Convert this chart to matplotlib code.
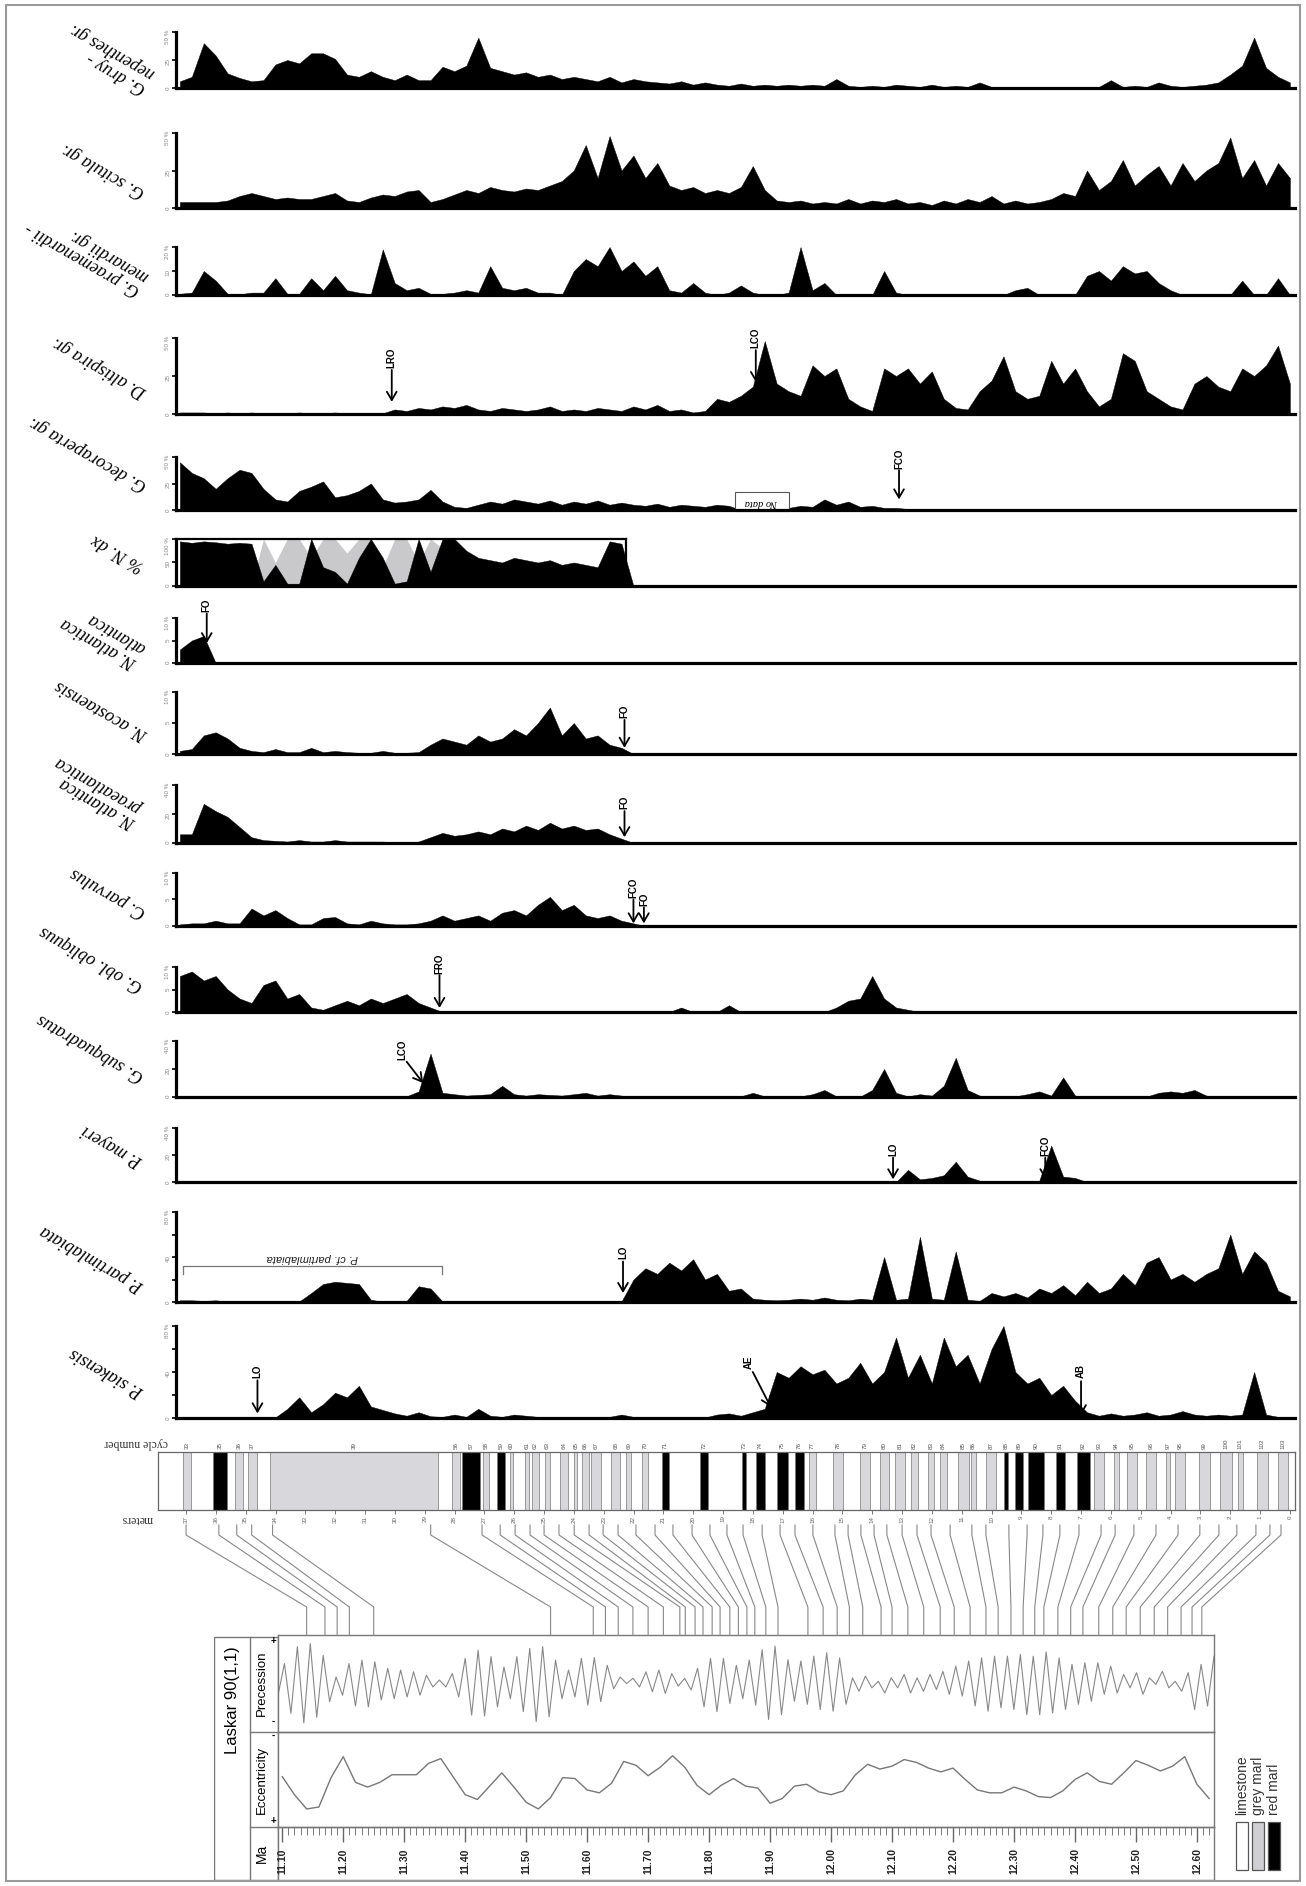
import numpy as np
import matplotlib
matplotlib.use("Agg")
import matplotlib.pyplot as plt
import matplotlib.transforms as mtransforms
from matplotlib.patches import Rectangle
from matplotlib.lines import Line2D

W, H = 1306, 1886
plt.rcParams['font.family'] = ['Liberation Sans', 'DejaVu Sans']

# sample positions along the section (m), left = old
depth_m = np.round(np.arange(37.2, -0.05, -0.4), 1)

druy = [6, 10, 40, 29, 13, 9, 6, 7, 21, 25, 22, 31, 31, 26, 12, 10, 15, 10, 7, 12, 7, 7, 19,
        15, 20, 45, 18, 15, 12, 14, 10, 12, 8, 10, 8, 6, 10, 5, 8, 6, 5, 4, 6, 3, 5, 3, 2,
        4, 2, 3, 2, 3, 2, 3, 2, 8, 2, 1, 2, 1, 3, 2, 1, 3, 1, 2, 1, 5, 1, 0, 1, 0, 1, 0, 0,
        1, 0, 1, 7, 1, 2, 1, 5, 2, 1, 2, 3, 5, 12, 20, 45, 18, 10, 5]
scitula = [4, 4, 4, 4, 5, 8, 10, 8, 6, 7, 6, 6, 8, 10, 5, 4, 7, 9, 8, 11, 12, 4, 6,
           9, 12, 10, 14, 12, 11, 13, 12, 15, 18, 25, 42, 20, 48, 25, 35, 20, 30, 15, 12, 14,
           10, 12, 10, 14, 28, 12, 5, 4, 5, 3, 4, 3, 6, 3, 5, 4, 6, 3, 4, 2, 5, 3, 6, 4, 8,
           3, 5, 3, 4, 6, 10, 8, 25, 12, 18, 32, 15, 22, 28, 15, 30, 18, 25, 30, 47, 20, 32,
           15, 30, 20]
menardii = [0.5, 1, 10, 6, 0.5, 0.3, 1, 1, 7, 0.5, 0.5, 7, 2, 8, 2, 1, 0.3, 19, 5, 2, 3, 0.5, 0.5,
            1, 2, 1, 12, 3, 2, 3, 1, 1, 0, 10, 15, 12, 20, 10, 14, 8, 12, 2, 1, 5, 1, 0, 1, 4,
            1, 0, 0, 1, 20, 2, 5, 0, 0, 0, 0, 10, 1, 0, 0, 0, 0, 0, 0, 0, 0, 0, 2, 3, 0, 0, 0,
            0, 8, 10, 6, 12, 9, 10, 5, 2, 0, 0, 0, 0, 0, 6, 0, 0, 7, 0]
altispira = [1, 1, 1, 0.5, 1, 0.5, 1, 0.5, 0.5, 0.5, 1, 0.5, 0.5, 1, 0.5, 0.5, 0.5, 0.5,
             3, 2, 4, 3, 5, 4, 6, 3, 2, 4, 3, 2, 3, 5, 2, 3, 2, 4, 3, 2, 5, 3, 6, 2, 3, 1, 2,
             10, 8, 12, 18, 48, 20, 15, 12, 32, 25, 30, 10, 5, 2, 30, 25, 30, 20, 28, 10, 4, 3,
             15, 22, 38, 15, 10, 12, 35, 20, 30, 15, 5, 10, 40, 35, 15, 10, 5, 3, 20, 25, 18,
             15, 30, 25, 32, 45, 20]
decoraperta = [45, 35, 30, 20, 30, 38, 35, 20, 10, 8, 18, 22, 27, 12, 14, 18, 25, 10, 7, 8, 10, 19, 8,
               3, 2, 5, 8, 6, 10, 8, 6, 9, 5, 8, 6, 9, 5, 7, 5, 4, 6, 3, 5, 4, 3, 5, 4, 0, 0, 0,
               0, 2, 4, 3, 10, 5, 8, 3, 4, 2, 2, 1, 1, 1, 0,
               0, 0, 0, 0, 0, 0, 0, 0, 0, 0, 0, 0, 0, 0, 0, 0, 0, 0, 0, 0, 0, 0, 0, 0, 0, 0, 0, 0, 0]
ndx = [95, 92, 95, 93, 90, 92, 90,
       10, 45, 5, 5, 100, 40, 30, 5, 60, 100, 60, 5, 10, 100, 30, 100,
       100, 75, 60, 55, 50, 60, 55, 50, 55, 45, 50, 45, 40, 95, 90] + [0] * 56
ndx_grey = [0] * 7 + [100, 50, 100, 100, 60, 100, 100, 70, 100, 100, 40, 100, 100, 50, 100, 80] + [0] * 71
ndx_end_m = 22.25
atlantica = [3, 5, 6] + [0] * 91
acostaensis = [0.5, 0.8, 3, 3.5, 2.5, 1, 0.5, 0.3, 0.8, 0.3, 0.3, 1, 0.3, 0.5, 0.3, 0.2, 0.2, 0.5, 0.2,
               0.2, 0.3, 1.5, 2.5, 2, 1.5, 3, 2, 2.5, 4, 3, 5, 7.5, 3, 5, 2.5, 3, 1.5, 1] + [0] * 56
praeatlantica = [6, 6, 27, 22, 18, 11, 4, 2, 1.5, 1, 2, 1, 1, 2, 1, 1, 1, 1, 0.5, 0.5, 1, 4, 7,
                 5, 6, 8, 6, 10, 8, 12, 9, 14, 10, 12, 9, 10, 6, 3] + [0] * 56
parvulus = [0.3, 0.5, 0.5, 1, 0.5, 0.5, 3.3, 2, 3, 1.5, 0.3, 0.3, 1.5, 1.7, 0.5, 0.3, 1, 0.5, 0.3,
            0.3, 0.5, 1, 2, 1, 1.5, 2, 1, 2.5, 3, 2, 4, 5.5, 3, 4, 2, 1.5, 2, 1, 0.5] + [0] * 55
obliquus = ([8, 9, 7, 8, 5, 3, 2, 6, 7, 3, 4, 1, 0.5, 1.5, 2.5, 1.5, 3, 2, 3, 4, 2, 1, 0]
            + [0] * 19 + [1] + [0] * 3 + [1.5] + [0] * 8 + [1, 2.5, 3, 8, 3, 1, 0.5] + [0] * 32)
subquadratus = [0.5, 0.3, 0.5, 0.3, 0.3, 0.5, 0.3, 0.3, 0.5, 0.3, 0.3, 0.3, 0.5, 0.3, 0.3, 0.3, 0.5,
                0.3, 0.3, 0.5, 4, 31, 3, 2, 1, 1.5, 2, 8, 2, 1, 2, 1.5, 1, 2, 3, 1, 2, 1, 0.5,
                0.3, 0.5, 0.3, 0.3, 0.5, 0.3, 0.3, 0.3, 0.5, 3, 0.5, 0.3, 0.3, 0.5, 2, 5, 0.5, 0.3,
                0.3, 5, 20, 3, 0.5, 2, 1, 8, 28, 5, 1, 0.5, 0.5, 0.5, 2, 4, 1, 14, 1, 0.3, 0.3, 0.3,
                0.5, 0.3, 0.3, 3, 4, 3, 5, 1, 0.3, 0.3, 0.5, 0.3, 0.3, 0.3, 0.3]
mayeri = [0] * 61 + [9, 2, 3, 5, 15, 4, 1, 0.5, 0, 0, 0, 1, 27, 4, 3] + [0] * 18
partimlabiata = ([1.5, 1.5, 1, 1.5, 0.5, 0.3, 0.3, 0.5, 0.5, 0.3, 0.5, 8, 16, 18, 17, 16, 2, 0.3, 0.5,
                  1, 14, 12, 0.5] + [0] * 14
                 + [0.5, 20, 30, 25, 35, 28, 38, 20, 25, 10, 12, 3, 2, 1.5, 2, 3, 2, 4, 2, 1.5, 3, 2,
                    40, 2, 3, 58, 3, 2, 45, 2, 1, 8, 5, 8, 4, 12, 8, 15, 6, 18, 8, 12, 25, 15, 35,
                    40, 20, 25, 18, 25, 30, 60, 25, 45, 35, 10, 5])
siakensis = ([0] * 7 + [0.5, 0.5, 8, 18, 5, 12, 22, 18, 28, 10, 7, 4, 2, 5, 1.5, 1]
             + [3, 1, 8, 2, 1, 3, 2, 1, 0.5, 1, 0.5, 0.5, 0.5, 1, 3, 1]
             + [0.5] * 6
             + [3, 4, 2, 5, 8, 40, 35, 45, 38, 42, 30, 35, 48, 30, 40, 70, 35, 55, 30, 70, 45, 55,
                30, 60, 80, 40, 30, 35, 20, 28, 15, 5, 2, 4, 2, 3, 5, 2, 3, 6, 3, 2, 3, 2, 3, 40,
                3, 1, 1])

species = ['G. druy -\nnepenthes gr.', 'G. scitula gr.', 'G. praemenardii -\nmenardii gr.',
           'D. altispira gr.', 'G. decoraperta gr.', '% N. dx', 'N. atlantica\natlantica',
           'N. acostaensis', 'N. atlantica\npraeatlantica', 'C. parvulus', 'G. obl. obliquus',
           'G. subquadratus', 'P. mayeri', 'P. partimlabiata', 'P. siakensis']
series = [druy, scitula, menardii, altispira, decoraperta, ndx, atlantica, acostaensis,
          praeatlantica, parvulus, obliquus, subquadratus, mayeri, partimlabiata, siakensis]
ymax = [50, 50, 20, 50, 50, 100, 10, 10, 40, 10, 10, 40, 40, 80, 80]

# bioevents: panel, label, tip (m, frac), tail (m, frac)
events = [(3, 'LRO', 30.1, 0.16, 30.1, 0.58), (3, 'LCO', 17.9, 0.42, 17.9, 0.84),
          (4, 'FCO', 13.1, 0.2, 13.1, 0.75), (6, 'FO', 36.3, 0.44, 36.3, 1.1),
          (7, 'FO', 22.3, 0.1, 22.3, 0.55), (8, 'FO', 22.3, 0.1, 22.3, 0.55),
          (9, 'FCO', 22.0, 0.05, 22.0, 0.5), (9, 'FO', 21.65, 0.05, 21.65, 0.35),
          (10, 'FRO', 28.5, 0.09, 28.5, 0.82), (11, 'LCO', 29.05, 0.25, 29.6, 0.63),
          (12, 'LO', 13.3, 0.05, 13.3, 0.45), (12, 'FCO', 8.2, 0.05, 8.2, 0.45),
          (13, 'LO', 22.35, 0.1, 22.35, 0.45), (14, 'LO', 34.6, 0.05, 34.6, 0.41),
          (14, 'AE', 17.4, 0.12, 18.0, 0.5), (14, 'AB', 7.0, 0.03, 7.0, 0.4)]

# lithology: bed limits (m) and type
bed_from = [37.10, 36.09, 35.36, 34.92, 34.18, 28.08, 27.75, 27.04, 26.58, 26.14, 25.64, 25.40,
            24.97, 24.46, 23.99, 23.73, 23.42, 22.75, 22.25, 21.72, 21.05, 19.77, 18.36, 17.90,
            17.19, 16.59, 16.12, 15.32, 14.41, 13.74, 13.24, 12.70, 12.13, 11.73, 11.13, 10.69,
            10.19, 9.58, 9.22, 8.78, 7.84, 7.14, 6.57, 5.90, 5.46, 4.83, 4.16, 3.85, 3.05, 2.35,
            1.74, 1.11, 0.40]
bed_to = [36.83, 35.62, 35.09, 34.62, 28.55, 27.81, 27.14, 26.84, 26.31, 26.04, 25.50, 25.17,
          24.80, 24.20, 23.89, 23.49, 23.09, 22.45, 22.08, 21.52, 20.81, 19.50, 18.23, 17.59,
          16.82, 16.29, 15.88, 14.98, 14.08, 13.44, 12.90, 12.47, 11.93, 11.49, 10.76, 10.52,
          9.85, 9.45, 8.95, 8.24, 7.54, 6.70, 6.23, 5.73, 5.13, 4.49, 4.02, 3.52, 2.68, 1.94,
          1.58, 0.74, 0.07]
bed_kind = ['grey', 'red', 'grey', 'grey', 'grey', 'grey', 'red', 'grey', 'red', 'grey',
            'grey', 'grey', 'grey', 'grey', 'grey', 'grey', 'grey', 'grey', 'grey', 'grey',
            'red', 'red', 'red', 'red', 'red', 'red', 'grey', 'grey', 'grey', 'grey',
            'grey', 'grey', 'grey', 'grey', 'grey', 'grey', 'grey', 'red', 'red', 'red',
            'red', 'red', 'grey', 'grey', 'grey', 'grey', 'grey', 'grey', 'grey', 'grey',
            'grey', 'grey', 'grey']
cycle_no = [33, 35, 36, 37, 39] + list(range(56, 104))

# astronomical tuning tie points: section level (m) -> age (Ma)
tie_m = [37.0, 35.9, 35.3, 34.8, 34.1, 28.8,
         27.08, 26.47, 25.97, 25.47, 25.00, 24.50, 23.99, 23.49, 23.02, 22.52, 21.92, 21.28,
         20.68, 20.04, 19.44, 18.87, 18.33, 17.69, 17.09, 16.59, 15.99, 15.25, 14.81, 14.38,
         13.94, 13.51, 13.00, 12.50, 12.03, 11.39, 10.66, 10.19, 9.42, 8.81, 8.28, 7.71, 7.07,
         6.33, 5.86, 5.23, 4.49, 3.75, 3.02, 2.38, 1.78, 1.14, 0.67, 0.30]
tie_age = [11.14, 11.17, 11.19, 11.21, 11.25, 11.54,
           11.610, 11.630, 11.651, 11.675, 11.700, 11.725, 11.752, 11.761, 11.777, 11.790,
           11.805, 11.818, 11.834, 11.848, 11.862, 11.875, 11.893, 11.913, 11.962, 11.987,
           12.010, 12.030, 12.052, 12.082, 12.100, 12.126, 12.152, 12.179, 12.202, 12.228,
           12.254, 12.274, 12.295, 12.315, 12.334, 12.349, 12.372, 12.393, 12.413, 12.439,
           12.462, 12.484, 12.507, 12.530, 12.552, 12.574, 12.592, 12.608]

# Laskar 90(1,1): precession extremes and eccentricity (relative units)
prec_vals = [-0.27,
             0.46, -0.69, 0.85, -0.91, 0.92, -0.78, 0.65, -0.42, 0.15, -0.27,
             0.46, -0.52, 0.54, -0.54, 0.50, -0.38, 0.35, -0.35, 0.31, -0.31,
             0.27, -0.27, 0.19, -0.08, 0.08, -0.08, 0.23, -0.31, 0.58, -0.73,
             0.77, -0.75, 0.62, -0.54, 0.38, -0.35, 0.62, -0.65, 0.81, -0.88,
             0.85, -0.77, 0.54, -0.35, 0.31, -0.31, 0.58, -0.50, 0.60, -0.42,
             0.42, -0.12, 0.15, 0.0, 0.12, -0.08, 0.27, -0.19, 0.31, -0.23,
             0.23, -0.06, 0.12, -0.15, 0.35, -0.54, 0.58, -0.65, 0.58, -0.46,
             0.42, -0.35, 0.54, -0.50,
             0.78, -0.83, 0.86, -0.72, 0.55, -0.41, 0.52, -0.48, 0.63, -0.60,
             0.71, -0.64, 0.59, -0.48, 0.13, -0.18, 0.17, -0.10, 0.05, -0.22,
             0.13, -0.10, 0.21, -0.22, 0.13, -0.18, 0.21, -0.14, 0.28, -0.25,
             0.40, -0.29, 0.52, -0.52, 0.59, -0.64, 0.63, -0.56, 0.63, -0.60,
             0.67, -0.72, 0.63, -0.72, 0.73, -0.68, 0.59, -0.60, 0.44, -0.48,
             0.48, -0.41, 0.48, -0.25, 0.40, -0.22, 0.21, -0.10, 0.25, -0.25,
             0.13, -0.02, 0.28, -0.10, 0.05, -0.18, 0.25, -0.60, 0.44, -0.52,
             0.63]
ecc_vals = [0.47, 0.66, 0.81, 0.79, 0.48, 0.26, 0.53, 0.58, 0.53, 0.45, 0.45, 0.45, 0.33, 0.28,
            0.47, 0.66, 0.71, 0.57, 0.43, 0.58, 0.74, 0.81, 0.69, 0.48, 0.49, 0.61, 0.64, 0.54,
            0.31, 0.35, 0.46, 0.37, 0.25, 0.37, 0.56, 0.66, 0.56, 0.49, 0.57,
            0.59, 0.75, 0.70, 0.57, 0.55, 0.63, 0.66, 0.62, 0.45, 0.34, 0.39, 0.36, 0.29, 0.32,
            0.38, 0.42, 0.38, 0.50, 0.61, 0.64, 0.64, 0.58, 0.62, 0.68, 0.69, 0.62, 0.50, 0.43,
            0.52, 0.55, 0.43, 0.30, 0.35, 0.41, 0.36, 0.26, 0.55, 0.70]
age_min, age_max = 11.093, 12.628
prec_age = np.linspace(age_min, age_max, len(prec_vals))
ecc_age = np.round(np.linspace(11.10, 12.62, len(ecc_vals)), 2)

# ------------------------------------------------------------------
fig = plt.figure(figsize=(W / 100, H / 100), dpi=100)


def add_ax(x0, y0, x1, y1):
    ax = fig.add_axes([x0 / W, 1 - y1 / H, (x1 - x0) / W, (y1 - y0) / H])
    ax.patch.set_visible(False)
    return ax


def fig_text(x, y, s, **kw):
    fig.text(x / W, 1 - y / H, s, **kw)


panel_px = [(32, 88), (133, 208), (247, 295), (338, 414), (457, 510), (539, 586), (618, 663),
            (692, 754), (785, 843), (873, 926), (967, 1012), (1041, 1097), (1128, 1182),
            (1212, 1302), (1326, 1418)]
label_px = [(108, 58), (103, 170), (87, 252), (100, 367), (88, 453), (118, 553), (103, 635),
            (102, 710), (97, 792), (108, 892), (92, 958), (91, 1047), (113, 1145), (92, 1258),
            (107, 1372)]

axes = []
for k, vals in enumerate(series):
    top, base = panel_px[k]
    ax = add_ax(176, top, 1295, base)
    if k == 5:
        ax.fill_between(depth_m, ndx_grey, 0, color='#c9c9cc', lw=0)
    ax.fill_between(depth_m, vals, 0, facecolor='black', edgecolor='black', lw=0.3)
    ax.set_xlim(37.33, -0.17)
    ax.set_ylim(0, ymax[k])
    for s in ['top', 'right']:
        ax.spines[s].set_visible(False)
    for s in ['left', 'bottom']:
        ax.spines[s].set_linewidth(2.3)
    ax.set_xticks([])
    ym = ymax[k]
    if ym == 80:
        ax.set_yticks([0, 20, 40, 60, 80])
        ax.set_yticklabels(['0', '', '40', '', '80 %'])
    else:
        ax.set_yticks([0, ym / 2, ym])
        ax.set_yticklabels(['0', '%g' % (ym / 2), '%g %%' % ym])
    ax.tick_params(axis='y', length=3, width=1.2, pad=1, labelsize=4.5,
                   labelcolor='#888', labelrotation=90)
    axes.append(ax)
    lx, ly = label_px[k]
    fig_text(lx, ly, species[k], rotation=150, ha='center', va='center', fontsize=13,
             family='Liberation Serif', style='italic', multialignment='left',
             linespacing=1.0)

# % N. dx box
ax6 = axes[5]
ax6.plot([37.33, ndx_end_m], [100, 100], color='black', lw=1.6, clip_on=False)
ax6.plot([ndx_end_m, ndx_end_m], [0, 100], color='black', lw=1.6, clip_on=False)

# "No data" window in G. decoraperta
tr5 = mtransforms.blended_transform_factory(axes[4].transData, axes[4].transAxes)
axes[4].add_patch(Rectangle((18.6, -0.02), -1.8, 0.36, transform=tr5, facecolor='white',
                            edgecolor='#555', lw=0.8, clip_on=False))
axes[4].text(17.7, 0.15, 'No data', transform=tr5, rotation=180, ha='center', va='center',
             fontsize=7.5, family='Liberation Serif', style='italic')

# P. cf. partimlabiata bracket
tr14 = mtransforms.blended_transform_factory(axes[13].transData, axes[13].transAxes)
axes[13].plot([37.1, 37.1, 28.4, 28.4], [0.31, 0.4, 0.4, 0.31], transform=tr14,
              color='#777', lw=0.9)
axes[13].text(32.75, 0.49, 'P. cf. partimlabiata', transform=tr14, rotation=180,
              ha='center', va='center', fontsize=8, style='italic', color='#222')

# bioevents
for k, lab, m_tip, f_tip, m_tail, f_tail in events:
    ax = axes[k]
    tr = mtransforms.blended_transform_factory(ax.transData, ax.transAxes)
    ax.annotate('', xy=(m_tip, f_tip), xytext=(m_tail, f_tail),
                xycoords=tr, textcoords=tr,
                arrowprops=dict(arrowstyle='->,head_length=0.6,head_width=0.35', lw=1.3,
                                color='black', shrinkA=0, shrinkB=0))
    ax.text(m_tail + (0.15 if m_tail != m_tip else 0), f_tail + 0.03, lab, transform=tr,
            rotation=90, ha='center', va='bottom', fontsize=7, fontweight='bold')

# lithological column
ax_col = add_ax(158, 1452, 1295, 1510)
ax_col.set_xlim(37.94, -0.17)
ax_col.set_ylim(0, 1)
kind_col = {'grey': '#d8d8dc', 'red': 'black'}
trc = mtransforms.blended_transform_factory(ax_col.transData, ax_col.transAxes)
for a, b, kd, num in zip(bed_from, bed_to, bed_kind, cycle_no):
    ax_col.axvspan(a, b, facecolor=kind_col[kd], edgecolor='#777', lw=0.5)
    ax_col.text((a + b) / 2, 1.06, str(num), transform=trc, rotation=90, ha='center',
                va='bottom', fontsize=4.5, color='#555')
for s in ax_col.spines.values():
    s.set_linewidth(0.9)
    s.set_color('#666')
ax_col.set_yticks([])
ax_col.set_xticks(range(0, 38))
ax_col.set_xticklabels([str(i) for i in range(0, 38)], rotation=90, fontsize=4.5, color='#666')
ax_col.tick_params(axis='x', length=3, width=0.6, color='#666', pad=1)
fig_text(136, 1443, 'cycle number', rotation=180, ha='center', va='center', fontsize=8.5,
         family='Liberation Serif', color='#333')
fig_text(137, 1519, 'meters', rotation=180, ha='center', va='center', fontsize=8.5,
         family='Liberation Serif', color='#333')

# Laskar panels
ax_prec = add_ax(278, 1635, 1214, 1732)
ax_prec.plot(prec_age, prec_vals, color='#888', lw=0.8)
ax_prec.set_xlim(age_min, age_max)
ax_prec.set_ylim(-1.12, 1.12)
ax_ecc = add_ax(278, 1732, 1214, 1827)
ax_ecc.plot(ecc_age, ecc_vals, color='#777', lw=1.0)
ax_ecc.set_xlim(age_min, age_max)
ax_ecc.set_ylim(1, 0)
ax_ma = add_ax(278, 1827, 1214, 1880)
ax_ma.set_xlim(age_min, age_max)
ax_ma.set_ylim(0, 1)
for ax in (ax_prec, ax_ecc, ax_ma):
    ax.set_yticks([])
    for s in ax.spines.values():
        s.set_color('#777')
        s.set_linewidth(1.0)
ax_prec.set_xticks([])
ax_ecc.set_xticks([])
ma_major = np.round(np.arange(11.10, 12.61, 0.10), 2)
ma_minor = np.round(np.arange(11.10, 12.625, 0.01), 2)
ax_ma.xaxis.set_ticks_position('top')
ax_ma.set_xticks(ma_major)
ax_ma.set_xticks(ma_minor, minor=True)
ax_ma.tick_params(axis='x', which='major', direction='in', length=11, width=1.0,
                  color='#666', labeltop=False, labelbottom=False)
ax_ma.tick_params(axis='x', which='minor', direction='in', length=6, width=0.7, color='#777')
trm = mtransforms.blended_transform_factory(ax_ma.transData, ax_ma.transAxes)
for a in ma_major:
    ax_ma.text(a, 0.36, '%.2f' % a, transform=trm, rotation=90, ha='center', va='center',
               fontsize=7.5, fontweight='bold', color='#222')

# label column of the Laskar block
ax_lbl = add_ax(214, 1635, 278, 1880)
ax_lbl.set_xlim(214, 278)
ax_lbl.set_ylim(1880, 1635)
ax_lbl.axis('off')
ax_lbl.add_patch(Rectangle((214, 1637), 64, 243, fill=False, edgecolor='#777', lw=1.0))
ax_lbl.plot([250, 250], [1637, 1880], color='#777', lw=1.0)
ax_lbl.plot([250, 278], [1732, 1732], color='#777', lw=1.0)
ax_lbl.plot([250, 278], [1827, 1827], color='#777', lw=1.0)
ax_lbl.text(232, 1700, 'Laskar 90(1,1)', rotation=90, ha='center', va='center', fontsize=12)
ax_lbl.text(262, 1683, 'Precession', rotation=90, ha='center', va='center', fontsize=9.5)
ax_lbl.text(262, 1780, 'Eccentricity', rotation=90, ha='center', va='center', fontsize=9.5)
ax_lbl.text(262, 1853, 'Ma', rotation=90, ha='center', va='center', fontsize=10)
for y, s in [(1641, '+'), (1722, '-'), (1736, '-'), (1821, '+')]:
    ax_lbl.text(273, y, s, ha='center', va='center', fontsize=7, fontweight='bold')

# tie lines between section and target curve
inv = fig.transFigure.inverted()
for m, a in zip(tie_m, tie_age):
    xa = inv.transform(ax_col.transData.transform((m, 0)))[0]
    xb = inv.transform(ax_prec.transData.transform((a, 0)))[0]
    fig.add_artist(Line2D([xa, xa, xb, xb],
                          [1 - 1525 / H, 1 - 1535 / H, 1 - 1607 / H, 1 - 1635 / H],
                          transform=fig.transFigure, color='#888', lw=0.8))

# legend
ax_leg = add_ax(1234, 1740, 1282, 1872)
ax_leg.set_xlim(0, 3)
ax_leg.set_ylim(0, 1)
ax_leg.axis('off')
for i, (fc, lab) in enumerate([('white', 'limestone'), ('#d0d0d4', 'grey marl'),
                               ('black', 'red marl')]):
    ax_leg.add_patch(Rectangle((i + 0.1, 0.015), 0.8, 0.365, facecolor=fc,
                               edgecolor='#555', lw=0.9))
    ax_leg.text(i + 0.5, 0.43, lab, rotation=90, ha='center', va='bottom', fontsize=10,
                color='#333')

# outer frame
fig.add_artist(Rectangle((6 / W, 1 - 1881 / H), 1294 / W, 1876 / H, fill=False,
                         edgecolor='#999', lw=1.5, transform=fig.transFigure))

fig.savefig('out.png', dpi=100, facecolor='white')
